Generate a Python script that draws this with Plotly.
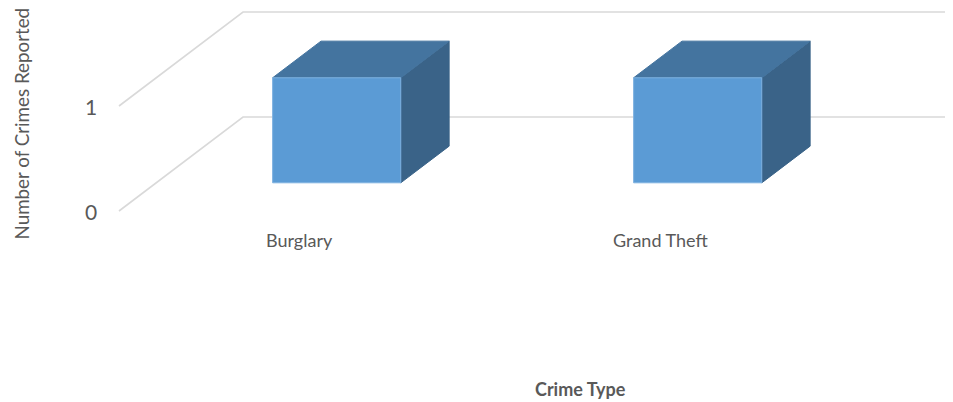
import plotly.graph_objects as go

# ---- data ----
categories = ["Burglary", "Grand Theft"]
values = [1, 1]
y_ticks = [0, 1]
y_tick_labels = ["0", "1"]
x_title = "Crime Type"
y_title = "Number of Crimes Reported"

# ---- oblique 3D projection parameters (in data units) ----
KX = 124 / 361      # x shift for full depth
KY = 94 / 105       # y shift for full depth
D_FRONT = 0.30      # bar front depth
D_BACK = 0.69       # bar back depth
BAR_W = 0.355       # bar width as fraction of category slot
N = len(categories)

# the page body has an 8px margin; figure sized to fit the remaining window
OFF = 8
W, H = 953 - OFF, 402 - OFF

def proj(x, y, d):
    return x + d * KX, y + d * KY

FRONT = "#5B9BD5"
TOP = "#44749F"
SIDE = "#3A6388"
GRID = "#D9D9D9"
TEXT = "#595959"
FONT = "Lato"

fig = go.Figure()

# gridlines: left side wall + back wall
for v in y_ticks:
    pts = [proj(0, v, 0), proj(0, v, 1), proj(N + 0.2, v, 1)]
    fig.add_trace(go.Scatter(x=[p[0] for p in pts], y=[p[1] for p in pts],
                             mode="lines", line=dict(color=GRID, width=1.6),
                             hoverinfo="skip", showlegend=False))

def poly(pts, color, line_color):
    xs = [p[0] for p in pts] + [pts[0][0]]
    ys = [p[1] for p in pts] + [pts[0][1]]
    fig.add_trace(go.Scatter(x=xs, y=ys, mode="lines", fill="toself",
                             fillcolor=color, line=dict(color=line_color, width=1),
                             hoverinfo="skip", showlegend=False))

for i, (cat, v) in enumerate(zip(categories, values)):
    x0 = i + 0.5 - BAR_W / 2
    x1 = i + 0.5 + BAR_W / 2
    # side face (right)
    poly([proj(x1, 0, D_FRONT), proj(x1, 0, D_BACK), proj(x1, v, D_BACK), proj(x1, v, D_FRONT)],
         SIDE, SIDE)
    # top face
    poly([proj(x0, v, D_FRONT), proj(x1, v, D_FRONT), proj(x1, v, D_BACK), proj(x0, v, D_BACK)],
         TOP, TOP)
    # front face
    poly([proj(x0, 0, D_FRONT), proj(x1, 0, D_FRONT), proj(x1, v, D_FRONT), proj(x0, v, D_FRONT)],
         FRONT, "#7EB1E0")

annotations = []
for v, lab in zip(y_ticks, y_tick_labels):
    px, py = proj(0, v, 0)
    annotations.append(dict(x=px, y=py, xref="x", yref="y", text=lab, showarrow=False,
                            xanchor="right", yanchor="middle", xshift=-20,
                            font=dict(family=FONT, size=21, color=TEXT)))
for i, cat in enumerate(categories):
    px, py = proj(i + 0.5, 0, 0)
    annotations.append(dict(x=px, y=py, xref="x", yref="y", text=cat, showarrow=False,
                            xanchor="center", yanchor="middle", yshift=-29,
                            font=dict(family=FONT, size=18, color=TEXT)))
annotations.append(dict(x=(580 - OFF) / W, y=1 - (389 - OFF) / H, xref="paper", yref="paper",
                        text="<b>" + x_title + "</b>", showarrow=False,
                        xanchor="center", yanchor="middle",
                        font=dict(family=FONT, size=18, color=TEXT)))
annotations.append(dict(x=0, y=1 - (124 - OFF) / H, xref="paper", yref="paper",
                        text=y_title, showarrow=False, textangle=-90,
                        xanchor="left", yanchor="middle", borderpad=0,
                        font=dict(family=FONT, size=18.8, color=TEXT)))

fig.update_layout(
    width=W, height=H,
    margin=dict(l=0, r=0, t=0, b=0),
    paper_bgcolor="white", plot_bgcolor="white",
    xaxis=dict(range=[(OFF - 119) / 361, (953 - 119) / 361], visible=False, fixedrange=True),
    yaxis=dict(range=[(211 - 402) / 105, (211 - OFF) / 105], visible=False, fixedrange=True),
    annotations=annotations,
    showlegend=False,
)

fig.write_html("out.html")
